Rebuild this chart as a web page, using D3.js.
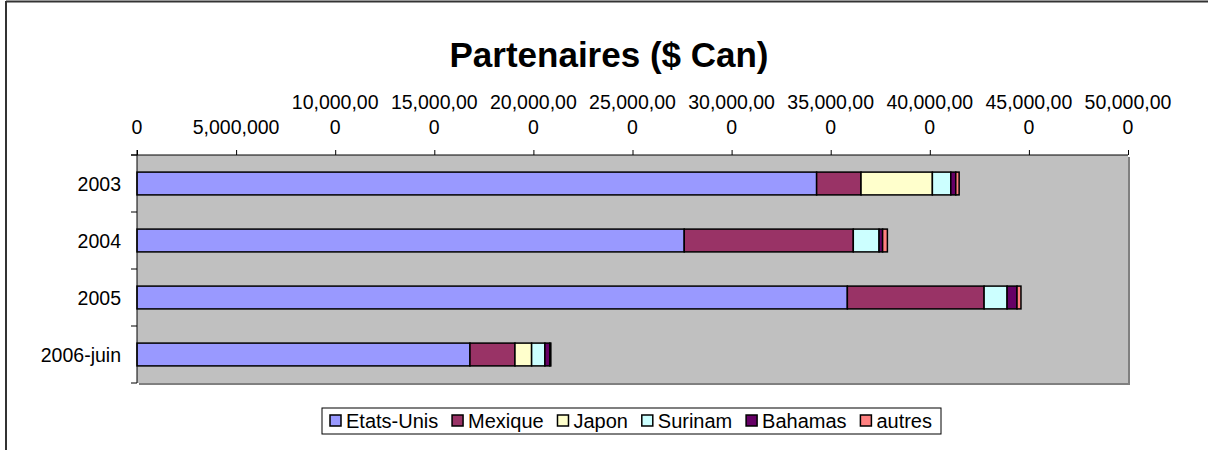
<!DOCTYPE html>
<html>
<head>
<meta charset="utf-8">
<script src="https://cdn.jsdelivr.net/npm/d3@7"></script>
<style>
  body { margin: 0; background: #fff; }
  text { font-family: "Liberation Sans", Arial, sans-serif; fill: #000; }
</style>
</head>
<body>
<script>
let width = 1208;
let height = 450;

// data (values in $ Can)
const years = ['2003', '2004', '2005', '2006-juin'];
const partners = ['Etats-Unis', 'Mexique', 'Japon', 'Surinam', 'Bahamas', 'autres'];
const etatsUnis = [34290000, 27610000, 35840000, 16800000];
const mexique   = [2240000, 8530000, 6900000, 2270000];
const japon     = [3600000, 0, 0, 840000];
const surinam   = [930000, 1300000, 1160000, 670000];
const bahamas   = [250000, 180000, 500000, 250000];
const autres    = [170000, 240000, 200000, 50000];
const xTicks = [0, 5000000, 10000000, 15000000, 20000000, 25000000, 30000000, 35000000, 40000000, 45000000, 50000000];
const colors = ['#9999FF', '#993366', '#FFFFCC', '#CCFFFF', '#660066', '#FF8080'];

const series = [etatsUnis, mexique, japon, surinam, bahamas, autres];
const rows = years.map(function(y, i) {
  const r = { year: y };
  partners.forEach(function(p, j) { r[p] = series[j][i]; });
  return r;
});

const plot = { left: 137, right: 1128, top: 155, bottom: 383 };

const svg = d3.select('body')
  .append('svg')
  .attr('width', width)
  .attr('height', height);

// outer frame
svg.append('line')
  .attr('x1', 6).attr('x2', width).attr('y1', 1.5).attr('y2', 1.5)
  .attr('stroke', '#333').attr('stroke-width', 2);
svg.append('line')
  .attr('x1', 6).attr('x2', 6).attr('y1', 1).attr('y2', height)
  .attr('stroke', '#333').attr('stroke-width', 2);

// title
svg.append('text')
  .attr('x', 609).attr('y', 67)
  .attr('text-anchor', 'middle')
  .style('font-size', '35px')
  .style('font-weight', 'bold')
  .text('Partenaires ($ Can)');

const x = d3.scaleLinear()
  .domain([0, 50000000])
  .range([plot.left, plot.right]);

const y = d3.scaleBand()
  .domain(years)
  .range([plot.top, plot.bottom])
  .paddingInner(0.6)
  .paddingOuter(0.3);

// plot area + shadow
svg.append('rect')
  .attr('x', plot.left + 2).attr('y', plot.top + 2)
  .attr('width', plot.right - plot.left).attr('height', plot.bottom - plot.top)
  .attr('fill', '#808080');
svg.append('rect')
  .attr('x', plot.left).attr('y', plot.top)
  .attr('width', plot.right - plot.left).attr('height', plot.bottom - plot.top)
  .attr('fill', '#C0C0C0');

// stacked bars
const stacked = d3.stack().keys(partners)(rows);
svg.append('g').attr('id', 'bars')
  .selectAll('g').data(stacked)
  .enter().append('g')
    .attr('fill', function(d, i) { return colors[i]; })
  .selectAll('rect').data(function(d) { return d.filter(function(s) { return s[1] > s[0]; }); })
  .enter().append('rect')
    .attr('x', function(d) { return x(d[0]); })
    .attr('y', function(d) { return y(d.data.year); })
    .attr('width', function(d) { return x(d[1]) - x(d[0]); })
    .attr('height', y.bandwidth())
    .attr('stroke', '#000')
    .attr('stroke-width', 1.5);

// top axis
const xAxis = svg.append('g')
  .attr('transform', 'translate(0,' + plot.top + ')')
  .call(d3.axisTop(x).tickValues(xTicks).tickSize(5).tickFormat(''));
xAxis.select('.domain').attr('stroke', '#000').attr('d', 'M' + (plot.left - 6) + ',0H' + plot.right);
xAxis.selectAll('.tick line').attr('stroke', '#000');

// tick labels wrap like Excel: 9 characters on first line
const fmt = d3.format(',');
const tickLabels = svg.append('g').selectAll('text').data(xTicks)
  .enter().append('text')
    .attr('x', function(d) { return x(d); })
    .attr('text-anchor', 'middle')
    .style('font-size', '19.5px');
tickLabels.each(function(d) {
  const s = fmt(d);
  const t = d3.select(this);
  if (s.length > 9) {
    t.append('tspan').attr('x', x(d)).attr('y', 109).text(s.slice(0, 9));
    t.append('tspan').attr('x', x(d)).attr('y', 134).text(s.slice(9));
  } else {
    t.append('tspan').attr('x', x(d)).attr('y', 134).text(s);
  }
});

// left axis
const yTickPos = d3.range(years.length + 1).map(function(i) {
  return plot.top + i * (plot.bottom - plot.top) / years.length;
});
svg.append('line')
  .attr('x1', plot.left).attr('x2', plot.left)
  .attr('y1', plot.top - 5).attr('y2', plot.bottom)
  .attr('stroke', '#000');
svg.append('g').selectAll('line').data(yTickPos)
  .enter().append('line')
    .attr('x1', plot.left - 6).attr('x2', plot.left)
    .attr('y1', function(d) { return d; }).attr('y2', function(d) { return d; })
    .attr('stroke', '#000');
svg.append('g').selectAll('text').data(years)
  .enter().append('text')
    .attr('x', 121)
    .attr('y', function(d) { return y(d) + y.bandwidth() / 2 + 7; })
    .attr('text-anchor', 'end')
    .style('font-size', '19.5px')
    .text(function(d) { return d; });

// legend: items spread over the box width
const legend = svg.append('g').attr('id', 'legend');
legend.append('rect')
  .attr('x', 322).attr('y', 408).attr('width', 619).attr('height', 26)
  .attr('fill', '#fff').attr('stroke', '#000');
const labels = partners.map(function(p) {
  return legend.append('text').attr('y', 428).style('font-size', '20px').text(p);
});
const widths = labels.map(function(t) { return t.node().getComputedTextLength(); });
const gap = (932 - 330 - d3.sum(widths) - 16 * partners.length) / (partners.length - 1);
let lx = 330;
partners.forEach(function(p, i) {
  legend.append('rect')
    .attr('x', lx).attr('y', 415).attr('width', 11).attr('height', 11)
    .attr('fill', colors[i]).attr('stroke', '#000').attr('stroke-width', 1.5);
  labels[i].attr('x', lx + 16);
  lx += 16 + widths[i] + gap;
});
</script>
</body>
</html>
